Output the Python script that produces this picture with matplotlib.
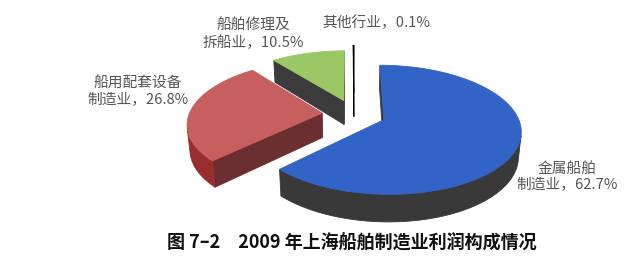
import numpy as np
import matplotlib
matplotlib.use("Agg")
import matplotlib.pyplot as plt
from matplotlib.patches import Polygon

plt.rcParams['font.family'] = ['Noto Sans CJK SC', 'DejaVu Sans']

# ---- data ----
categories = ['金属船舶\n制造业', '船用配套设备\n制造业', '船舶修理及\n拆船业', '其他行业']
values = [62.7, 26.8, 10.5, 0.1]
title = '图 7–2\u30002009 年上海船舶制造业利润构成情况'

# ---- style ----
top_colors = ['#3263C6', '#C85F5F', '#9BC864', '#111111']
side_colors = ['#393939', '#9A2E2E', '#3B3B3B', '#111111']
face_colors = ['#393939', '#6B2F2F', '#3B3B3B', '#111111']
explode = [0.24, 0.24, 0.24, 0.36]
label_pos = [(567, 177), (138, 92), (253, 34), (376, 23)]

# ---- 3D projection ----
sinp = 0.46
cosp = np.sqrt(1 - sinp ** 2)
D = 5.8
K = 133
CX, CY = 354, 114
H = 0.21
cam = D * np.array([0.0, -cosp, sinp])


def proj(X, Y, Z):
    v = Y * sinp + Z * cosp
    d = -Y * cosp + Z * sinp
    s = D / (D - d)
    return CX + K * X * s, CY - K * v * s


def visible(normal, point):
    return np.dot(normal, cam - np.asarray(point)) > 0


fig = plt.figure(figsize=(6.27, 2.62), dpi=100)
ax = fig.add_axes([0, 0, 1, 1])
ax.set_xlim(0, 627)
ax.set_ylim(262, 0)
ax.axis('off')

total = sum(values)
cum = 0.0
slices = []
for i, v in enumerate(values):
    a0 = 90 - 360 * cum / total
    cum += v
    a1 = 90 - 360 * cum / total
    mid = np.radians((a0 + a1) / 2)
    ox, oy = explode[i] * np.cos(mid), explode[i] * np.sin(mid)
    cy_world = oy + 0.6 * np.sin(mid)
    slices.append((i, a0, a1, ox, oy, cy_world))

# draw far slices first
slices.sort(key=lambda s: -s[5])


def add_poly(pts, fc, ec=None, lw=0.6, z=1):
    ax.add_patch(Polygon(pts, closed=True, facecolor=fc,
                         edgecolor=ec if ec else fc, linewidth=lw, zorder=z))


for (i, a0, a1, ox, oy, _) in slices:
    n = max(4, int(abs(a0 - a1) * 2))
    ts = np.radians(np.linspace(a0, a1, n))
    tiny = values[i] / total < 0.01
    ec = '#000000' if tiny else None
    lw = 0.5 if tiny else 0.6

    # radial faces
    for ang, nang in ((a0, a0 + 90), (a1, a1 - 90)):
        t = np.radians(ang)
        nt = np.radians(nang)
        rx, ry = ox + np.cos(t), oy + np.sin(t)
        pmid = ((ox + rx) / 2, (oy + ry) / 2, -H / 2)
        if visible(np.array([np.cos(nt), np.sin(nt), 0]), pmid):
            pts = [proj(ox, oy, 0), proj(rx, ry, 0), proj(rx, ry, -H), proj(ox, oy, -H)]
            add_poly(pts, face_colors[i], ec, lw)

    # outer side: contiguous visible runs
    if not tiny:
        vis = []
        for j in range(len(ts) - 1):
            tm = (ts[j] + ts[j + 1]) / 2
            p = (ox + np.cos(tm), oy + np.sin(tm), -H / 2)
            vis.append(visible(np.array([np.cos(tm), np.sin(tm), 0]), p))
        j = 0
        while j < len(vis):
            if vis[j]:
                k = j
                while k < len(vis) and vis[k]:
                    k += 1
                seg = ts[j:k + 1]
                topp = [proj(ox + np.cos(t), oy + np.sin(t), 0) for t in seg]
                botp = [proj(ox + np.cos(t), oy + np.sin(t), -H) for t in seg[::-1]]
                add_poly(topp + botp, side_colors[i], ec, lw)
                j = k
            else:
                j += 1

    # top face
    pts = [proj(ox, oy, 0)] + [proj(ox + np.cos(t), oy + np.sin(t), 0) for t in ts]
    add_poly(pts, top_colors[i], ec, lw)

# labels
for i, (cat, v) in enumerate(zip(categories, values)):
    x, y = label_pos[i]
    ax.text(x, y, f'{cat}，{v}%', ha='center', va='center', fontsize=10.6,
            color='#555555', linespacing=1.2)

ax.text(352, 243, title, ha='center', va='center', fontsize=13,
        fontweight='bold', color='#111111')

fig.savefig('out.png', dpi=100)
